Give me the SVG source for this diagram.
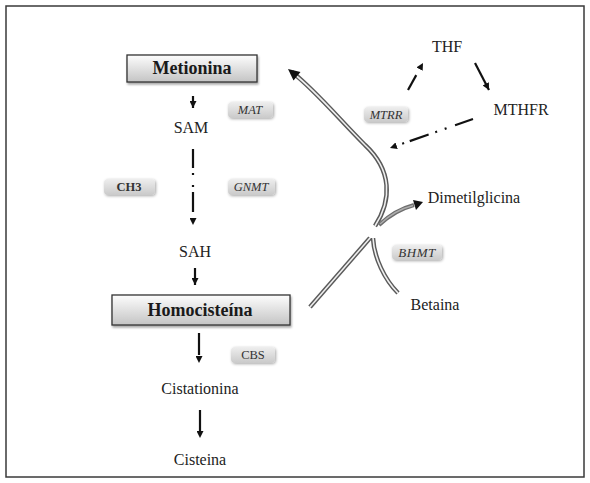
<svg xmlns="http://www.w3.org/2000/svg" width="590" height="483" viewBox="0 0 590 483">
<style>
.t{font-family:"Liberation Serif","Times New Roman",serif;font-size:16px;fill:#222;text-anchor:middle}
.tb{font-family:"Liberation Serif","Times New Roman",serif;font-size:18px;font-weight:bold;fill:#1a1a1a;text-anchor:middle}
.p{font-family:"Liberation Serif","Times New Roman",serif;font-size:12.5px;fill:#333;text-anchor:middle}
.pi{font-style:italic}
.pb{font-weight:bold}
.pill{fill:url(#pg);filter:url(#sh)}
.box{fill:url(#bg);stroke:#333;stroke-width:1.3;filter:url(#sh2)}
.ar{fill:none;stroke:#111;stroke-width:2.2;marker-end:url(#ah)}
.dblo{fill:none;stroke:#5a5a5a;stroke-width:4.5}
.dbli{fill:none;stroke:#efefef;stroke-width:1.6}
</style>
<defs>
<linearGradient id="bg" x1="0" y1="0" x2="0" y2="1"><stop offset="0" stop-color="#fdfdfd"/><stop offset="1" stop-color="#c4c4c4"/></linearGradient>
<linearGradient id="pg" x1="0" y1="0" x2="0" y2="1"><stop offset="0" stop-color="#eeeeee"/><stop offset="1" stop-color="#cacaca"/></linearGradient>
<filter id="sh" x="-20%" y="-40%" width="140%" height="180%"><feGaussianBlur in="SourceAlpha" stdDeviation="1.5"/><feOffset dx="0.5" dy="1"/><feComponentTransfer><feFuncA type="linear" slope="0.35"/></feComponentTransfer><feMerge><feMergeNode/><feMergeNode in="SourceGraphic"/></feMerge></filter>
<filter id="sh2" x="-10%" y="-30%" width="120%" height="160%"><feGaussianBlur in="SourceAlpha" stdDeviation="1.2"/><feOffset dx="1" dy="1.5"/><feComponentTransfer><feFuncA type="linear" slope="0.35"/></feComponentTransfer><feMerge><feMergeNode/><feMergeNode in="SourceGraphic"/></feMerge></filter>
<marker id="ah" viewBox="0 0 10 10" refX="10" refY="5" markerWidth="7" markerHeight="7" markerUnits="userSpaceOnUse" orient="auto"><path d="M0,0 L10,5 L0,10 z" fill="#111"/></marker>
</defs>
<rect x="6" y="6" width="578" height="471" fill="#fff" stroke="#3a3a3a" stroke-width="1.5"/>

<g id="connectors">
<path class="ar" d="M193,96 L193,108"/>
<path class="ar" d="M193,149 L193,225" stroke-dasharray="19 5 2 10 2 5 20 100"/>
<path class="ar" d="M195,268 L195,285"/>
<path class="ar" d="M199,333 L199,363" stroke-dasharray="22 100"/>
<path class="ar" d="M200,410 L200,438" stroke-dasharray="21 100"/>
<path class="ar" d="M408,90 L423,63" stroke-dasharray="17 100"/>
<path class="ar" d="M475,63 L489,90"/>
<path class="ar" d="M473,119 L390,148" stroke-dasharray="19 9 2 8 2 7 20 6 2 100"/>
<path class="dblo" d="M375,226 C392,200 392,170 365,145 C340,120 315,90 292,72"/>
<path class="dbli" d="M375,226 C392,200 392,170 365,145 C340,120 315,90 294,74"/>
<polygon points="288,69 300.5,72 293.5,80.5" fill="#111"/>
<path d="M379,225 Q395,210 414,205" fill="none" stroke="#6e6e6e" stroke-width="4"/>
<path d="M380,224 Q395,210 413,205.5" fill="none" stroke="#adadad" stroke-width="1.3"/>
<polygon points="423,202 413,200 416,210" fill="#111"/>
<path class="dblo" d="M370,238 L310,307"/>
<path class="dbli" d="M370,238 L310,307"/>
<path class="dblo" d="M373,238 C374,258 385,280 398,293"/>
<path class="dbli" d="M373,238 C374,258 385,280 398,293"/>
</g>

<g id="metionina"><rect class="box" x="127" y="55" width="130" height="27"/><text class="tb" x="192" y="74">Metionina</text></g>
<g id="sam"><text class="t" x="191" y="133">SAM</text></g>
<g id="sah"><text class="t" x="195" y="257">SAH</text></g>
<g id="homocisteina"><rect class="box" x="112" y="295" width="178" height="30"/><text class="tb" x="200" y="316">Homocisteína</text></g>
<g id="cistationina"><text class="t" x="200" y="394">Cistationina</text></g>
<g id="cisteina"><text class="t" x="200" y="465">Cisteina</text></g>
<g id="thf"><text class="t" x="447" y="52">THF</text></g>
<g id="mthfr"><text class="t" x="521" y="115">MTHFR</text></g>
<g id="dimetilglicina"><text class="t" x="474" y="203">Dimetilglicina</text></g>
<g id="betaina"><text class="t" x="435" y="310">Betaina</text></g>

<g id="mat"><rect class="pill" x="228" y="102" width="45" height="16" rx="4"/><text class="p pi" x="250" y="114">MAT</text></g>
<g id="ch3"><rect class="pill" x="104" y="179" width="51" height="16" rx="4"/><text class="p pb" x="129" y="191">CH3</text></g>
<g id="gnmt"><rect class="pill" x="228" y="179" width="47" height="16" rx="4"/><text class="p pi" x="251" y="191">GNMT</text></g>
<g id="mtrr"><rect class="pill" x="364" y="107" width="44" height="15" rx="4"/><text class="p pi" x="386" y="119">MTRR</text></g>
<g id="bhmt"><rect class="pill" x="392" y="245" width="50" height="15" rx="4"/><text class="p pi" x="417" y="257" style="font-size:13px;letter-spacing:0.5px">BHMT</text></g>
<g id="cbs"><rect class="pill" x="231" y="347" width="44" height="16" rx="4"/><text class="p" x="253" y="359">CBS</text></g>
</svg>
